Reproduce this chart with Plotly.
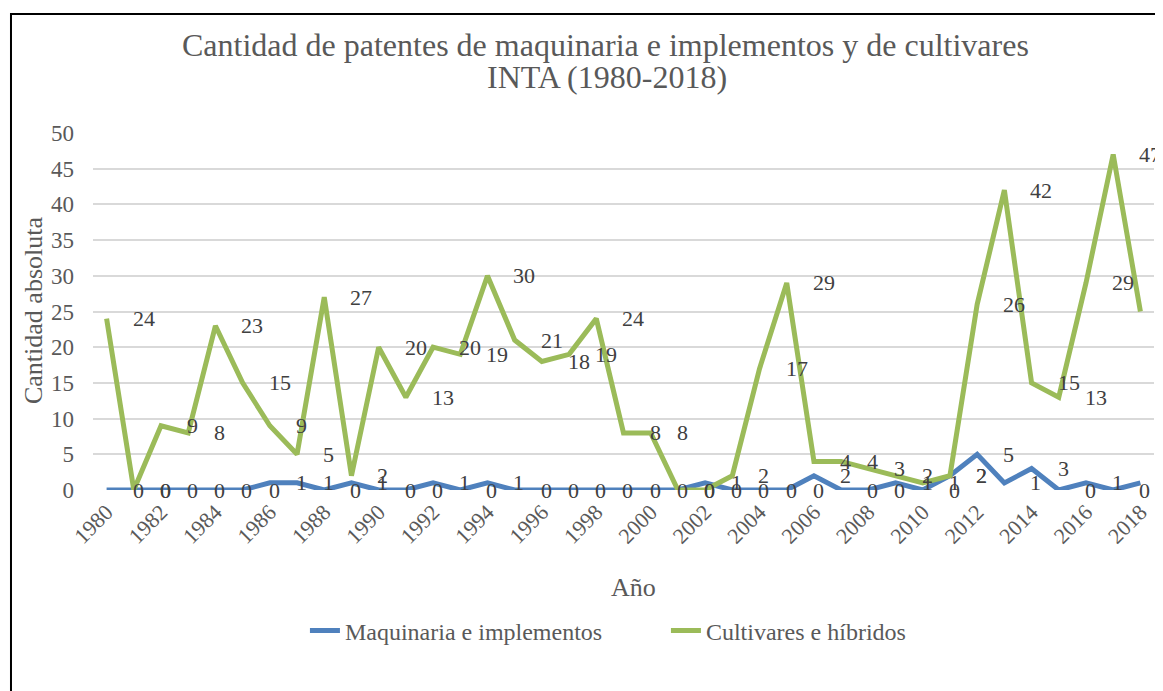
import plotly.graph_objects as go

years = list(range(1980, 2019))
maquinaria = [0, 0, 0, 0, 0, 0, 1, 1, 0, 1,
              0, 0, 1, 0, 1, 0, 0, 0, 0, 0,
              0, 0, 1, 0, 0, 0, 2, 0, 0, 1,
              0, 2, 5, 1, 3, 0, 1, 0, 1]
cultivares = [24, 0, 9, 8, 23, 15, 9, 5, 27, 2,
              20, 13, 20, 19, 30, 21, 18, 19, 24, 8,
              8, 0, 0, 2, 17, 29, 4, 4, 3, 2,
              1, 2, 26, 42, 15, 13, 29, 47, 25]
series_names = ["Maquinaria e implementos", "Cultivares e híbridos"]
title_lines = ["Cantidad de patentes de maquinaria e implementos y de cultivares",
               "INTA (1980-2018)"]
x_title = "Año"
y_title = "Cantidad absoluta"
tick_years = years[::2]

FONT = "Liberation Serif"
BLUE = "#4F81BD"
GREEN = "#9BBB59"
GRAY = "#595959"
DARK = "#404040"

fig = go.Figure()
fig.add_trace(go.Scatter(x=years, y=maquinaria, mode="lines", name=series_names[0],
                         line=dict(color=BLUE, width=5)))
fig.add_trace(go.Scatter(x=years, y=cultivares, mode="lines", name=series_names[1],
                         line=dict(color=GREEN, width=5)))

annotations = []
for series in (maquinaria, cultivares):
    for yr, v in zip(years, series):
        annotations.append(dict(x=yr, y=v, xref="x", yref="y", text=str(v),
                                showarrow=False, xanchor="left", yanchor="middle",
                                xshift=24, font=dict(family=FONT, size=22, color=DARK)))

annotations.append(dict(x=0.483, y=1.2465, xref="paper", yref="paper", text=title_lines[0],
                        showarrow=False, xanchor="center", yanchor="middle",
                        font=dict(family=FONT, size=32, color=GRAY)))
annotations.append(dict(x=0.484, y=1.157, xref="paper", yref="paper", text=title_lines[1],
                        showarrow=False, xanchor="center", yanchor="middle",
                        font=dict(family=FONT, size=32, color=GRAY)))
annotations.append(dict(x=0.509, y=-0.2745, xref="paper", yref="paper", text=x_title,
                        showarrow=False, xanchor="center", yanchor="middle",
                        font=dict(family=FONT, size=26, color=GRAY)))
annotations.append(dict(x=-0.0566, y=0.504, xref="paper", yref="paper",
                        text=y_title, textangle=-90,
                        showarrow=False, xanchor="center", yanchor="middle",
                        font=dict(family=FONT, size=26, color=GRAY)))

# figure is drawn 8px in from the page's top-left corner (default body margin)
fig.update_layout(
    width=1155, height=683,
    margin=dict(l=85, r=9, t=125, b=201, autoexpand=False),
    paper_bgcolor="white", plot_bgcolor="white",
    font=dict(family=FONT, color=GRAY),
    showlegend=True,
    legend=dict(orientation="h", x=0.54, xanchor="center", y=-0.395, yanchor="middle",
                entrywidth=316, entrywidthmode="pixels",
                font=dict(family=FONT, size=24, color=GRAY)),
    annotations=annotations,
    shapes=[dict(type="rect", xref="paper", yref="paper",
                 x0=-0.0773, x1=1.05, y0=-0.65, y1=1.333,
                 line=dict(color="black", width=2), layer="below")],
)
fig.update_xaxes(range=[1979.5, 2018.5], tickmode="array", tickvals=tick_years,
                 ticktext=[str(t) for t in tick_years], tickangle=-45,
                 showgrid=False, zeroline=False, showline=False, ticks="",
                 ticklabelstandoff=4,
                 tickfont=dict(family=FONT, size=22, color=GRAY))
fig.update_yaxes(range=[0, 50], dtick=5, showgrid=True, gridcolor="#D9D9D9", gridwidth=1.5,
                 zeroline=False, showline=False, ticks="",
                 ticklabelstandoff=18,
                 tickfont=dict(family=FONT, size=23, color=GRAY))

fig.write_html("out.html")
